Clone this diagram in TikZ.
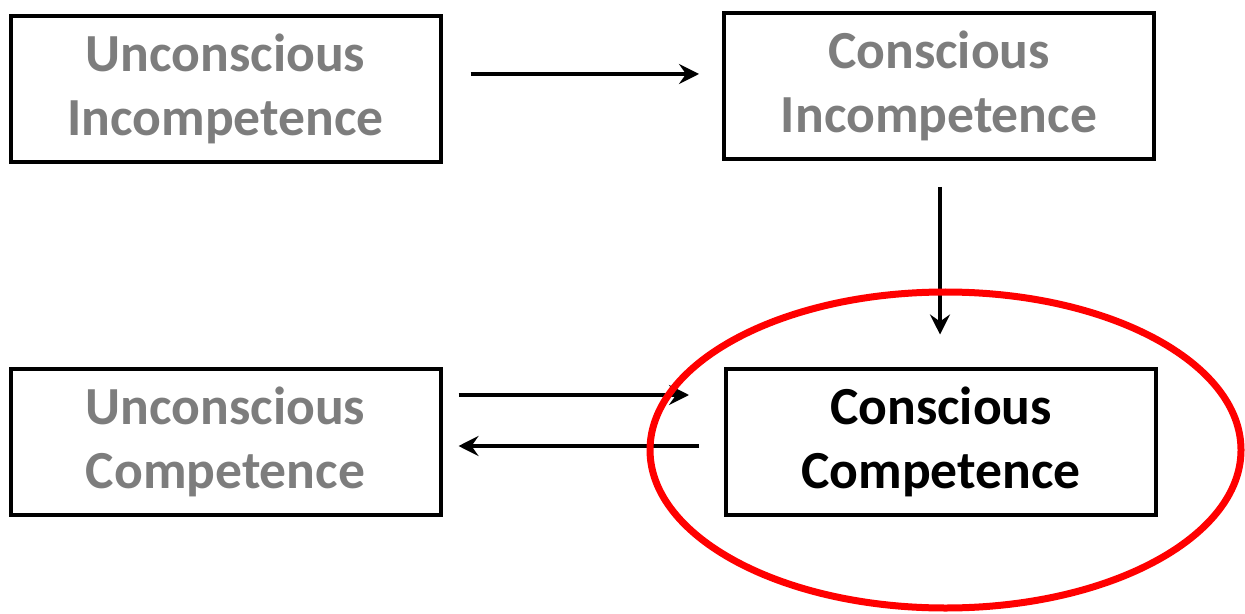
\documentclass[tikz,border=0pt]{standalone}
\usepackage{fontspec}
\setmainfont{Carlito}
\usetikzlibrary{arrows.meta}

\begin{document}
\begin{tikzpicture}[
            x=0.5pt, y=-0.5pt,
            stage/.style={draw, line width=2pt, minimum width=215pt, minimum height=73pt, inner sep=0pt, align=center, text=gray!98!black, font=\fontsize{26.8}{32}\selectfont\bfseries},
            current/.style={stage, text=black},
            arrow/.style={-{Stealth[length=10pt, width=10pt, inset=3.5pt]}, line width=2pt},
            highlight/.style={draw=red, line width=3.5pt}
        ]
        \useasboundingbox (0,0) rectangle (1245,614);

        % The four stages
        \node[stage] (ui) at (225.5,89) {Unconscious\\Incompetence};
        \node[stage] (ci) at (939,86) {Conscious\\Incompetence};
        \node[stage] (uc) at (225.5,441.5) {Unconscious\\Competence};
        \node[current] (cc) at (941,441.5) {Conscious\\Competence};

        % Progression arrows
        \draw[arrow, shorten <=14pt, shorten >=11.5pt] ([yshift=7.5pt]ui.east) -- ([yshift=6pt]ci.west);
        \draw[arrow, shorten <=13pt, shorten >=16pt] ([xshift=0.5pt]ci.south) -- ([xshift=-0.5pt]cc.north);
        \draw[arrow, shorten <=8pt, shorten >=17.5pt] ([yshift=23.25pt]uc.east) -- ([yshift=23.25pt]cc.west);
        \draw[arrow, shorten <=12.5pt, shorten >=8pt] ([yshift=-2.25pt]cc.west) -- ([yshift=-2.25pt]uc.east);

        % Current stage marked
        \draw[highlight] ([xshift=2.25pt, yshift=-4.25pt]cc.center) ellipse [x radius=295.5, y radius=158];
    \end{tikzpicture}
\end{document}
